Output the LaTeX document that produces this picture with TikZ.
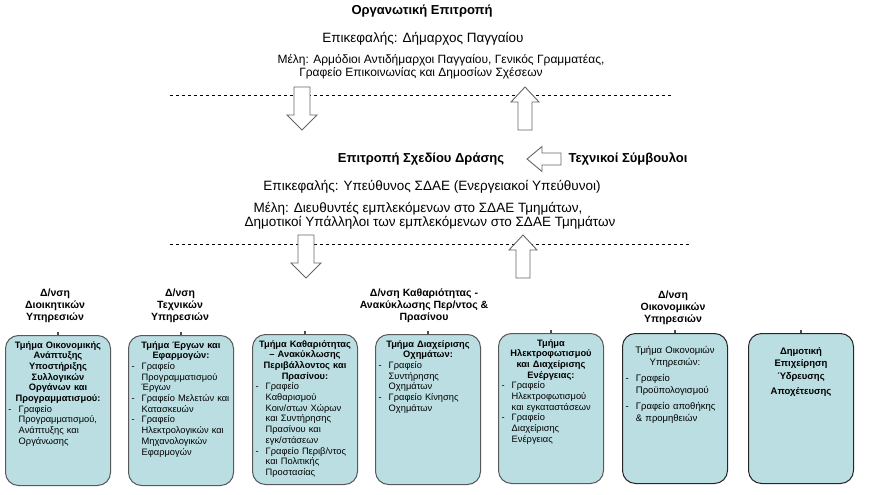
\documentclass[tikz,border=0pt]{standalone}
\usepackage{fontspec}
\setmainfont{Liberation Sans}
\usetikzlibrary{positioning}

\definecolor{boxfill}{RGB}{186,222,226}
\newcommand{\dashitem}[1]{\par\hangindent=1.1em\hangafter=1\noindent\makebox[1.1em][l]{-}#1\par}

\begin{document}
\begin{tikzpicture}[x=1pt,y=-1pt,
  title/.style={font=\bfseries\fontsize{13}{15}\selectfont},
  lead/.style={font=\fontsize{13.5}{15}\selectfont},
  info/.style={font=\fontsize{12}{13}\selectfont},
  infobig/.style={font=\fontsize{13.5}{13}\selectfont},
  dirlabel/.style={font=\bfseries\fontsize{10.5}{12}\selectfont, align=center},
  unitbox/.style={draw=black!65, line width=1pt, fill=boxfill, rounded corners=13pt,
    minimum width=105pt, minimum height=150pt, anchor=north west, inner sep=0pt},
  unittext/.style={font=\fontsize{9.3}{10.7}\selectfont, text width=99pt, align=left, inner sep=0pt},
  blockarrow/.style={draw=black!60, fill=white, line width=0.9pt},
  sep/.style={dash pattern=on 3pt off 3pt, line width=0.6pt}]
\useasboundingbox (0,0) rectangle (873,495);

% top committee
\node[title] (orgtitle) at (422,11) {Οργανωτική Επιτροπή};
\node[lead] (orghead) at (423,39) {Επικεφαλής: Δήμαρχος Παγγαίου};
\node[info] (orgmembers) at (441,60) {Μέλη: Αρμόδιοι Αντιδήμαρχοι Παγγαίου, Γενικός Γραμματέας,};
\node[info] (orgoffice) at (421,73) {Γραφείο Επικοινωνίας και Δημοσίων Σχέσεων};

\draw[sep] (170,95) -- (672,95);
\draw[sep] (170,244) -- (690,244);

% block arrows
\foreach \x/\y in {302/87, 306/235}
  \draw[blockarrow, shift={(\x,\y)}] (-8,0) -- (8,0) -- (8,28) -- (15,28) -- (0,43) -- (-15,28) -- (-8,28) -- cycle;
\foreach \x/\y in {525/130, 523/278}
  \draw[blockarrow, shift={(\x,\y)}, yscale=-1] (-7,0) -- (7,0) -- (7,28) -- (14,28) -- (0,43) -- (-14,28) -- (-7,28) -- cycle;

% action plan committee
\node[title] (plantitle) at (421,159) {Επιτροπή Σχεδίου Δράσης};
\node[title] (advisors) at (628,159) {Τεχνικοί Σύμβουλοι};
\draw[blockarrow] (561,153) -- (542,153) -- (542,146.5) -- (527,159) -- (542,171.5) -- (542,165) -- (561,165) -- cycle;
\node[infobig] (planhead) at (432,187) {Επικεφαλής: Υπεύθυνος ΣΔΑΕ (Ενεργειακοί Υπεύθυνοι)};
\node[infobig] (planmembers) at (418,209) {Μέλη: Διευθυντές εμπλεκόμενων στο ΣΔΑΕ Τμημάτων,};
\node[infobig] (planstaff) at (430,223) {Δημοτικοί Υπάλληλοι των εμπλεκόμενων στο ΣΔΑΕ Τμημάτων};

% directorates
\node[dirlabel] (dir1) at (55,306) {Δ/νση\\Διοικητικών\\Υπηρεσιών};
\node[dirlabel] (dir2) at (180,306) {Δ/νση\\Τεχνικών\\Υπηρεσιών};
\node[dirlabel] (dir3) at (424,306) {Δ/νση Καθαριότητας -\\Ανακύκλωσης Περ/ντος \&\\Πρασίνου};
\node[dirlabel] (dir4) at (673,308) {Δ/νση\\Οικονομικών\\Υπηρεσιών};

% units
\node[unitbox] (b1) at (5,335) {};
\node[unitbox] (b2) at (128,335) {};
\node[unitbox] (b3) at (252,334) {};
\node[unitbox] (b4) at (375,334) {};
\node[unitbox] (b5) at (498,333) {};
\node[unitbox, draw=black!85] (b6) at (622,333) {};
\node[unitbox, draw=black!85] (b7) at (748,333) {};
\foreach \b in {b1,b2,b3,b4,b5,b6,b7}
  \draw[line width=1.2pt, black!70] (\b.north) -- ++(0,-3);

\node[unittext, below=6pt of b1.north] (t1) {{\centering\bfseries Τμήμα Οικονομικής\\Ανάπτυξης\\Υποστήριξης\\Συλλογικών\\Οργάνων και\\Προγραμματισμού:\par}
  \dashitem{Γραφείο\newline Προγραμματισμού,\newline Ανάπτυξης και\newline Οργάνωσης}};
\node[unittext, below=6pt of b2.north] (t2) {{\centering\bfseries Τμήμα Έργων και\\Εφαρμογών:\par}
  \dashitem{Γραφείο\newline Προγραμματισμού\newline Έργων}
  \dashitem{Γραφείο Μελετών και\newline Κατασκευών}
  \dashitem{Γραφείο\newline Ηλεκτρολογικών και\newline Μηχανολογικών\newline Εφαρμογών}};
\node[unittext, below=6pt of b3.north] (t3) {{\centering\bfseries Τμήμα Καθαριότητας\\– Ανακύκλωσης\\Περιβάλλοντος και\\Πρασίνου:\par}
  \dashitem{Γραφείο\newline Καθαρισμού\newline Κοιν/στων Χώρων\newline και Συντήρησης\newline Πρασίνου και\newline εγκ/στάσεων}
  \dashitem{Γραφείο Περιβ/ντος\newline και Πολιτικής\newline Προστασίας}};
\node[unittext, below=6pt of b4.north] (t4) {{\centering\bfseries Τμήμα Διαχείρισης\\Οχημάτων:\par}
  \dashitem{Γραφείο\newline Συντήρησης\newline Οχημάτων}
  \dashitem{Γραφείο Κίνησης\newline Οχημάτων}};
\node[unittext, below=6pt of b5.north] (t5) {{\centering\bfseries Τμήμα\\Ηλεκτροφωτισμού\\και Διαχείρισης\\Ενέργειας:\par}
  \dashitem{Γραφείο\newline Ηλεκτροφωτισμού\newline και εγκαταστάσεων}
  \dashitem{Γραφείο\newline Διαχείρισης\newline Ενέργειας}};
\node[unittext, font=\fontsize{9.5}{12.5}\selectfont, below=13pt of b6.north] (t6) {{\centering Τμήμα Οικονομιών\\Υπηρεσιών:\par}\vspace{3pt}
  \dashitem{Γραφείο\newline Προϋπολογισμού}\vspace{3pt}
  \dashitem{Γραφείο αποθήκης\newline \& προμηθειών}};
\node[unittext, font=\bfseries\fontsize{9.5}{12.5}\selectfont, below=14pt of b7.north] (t7) {{\centering Δημοτική\\Επιχείρηση\\Ύδρευσης\\[3pt]Αποχέτευσης\par}};

\end{tikzpicture}
\end{document}
